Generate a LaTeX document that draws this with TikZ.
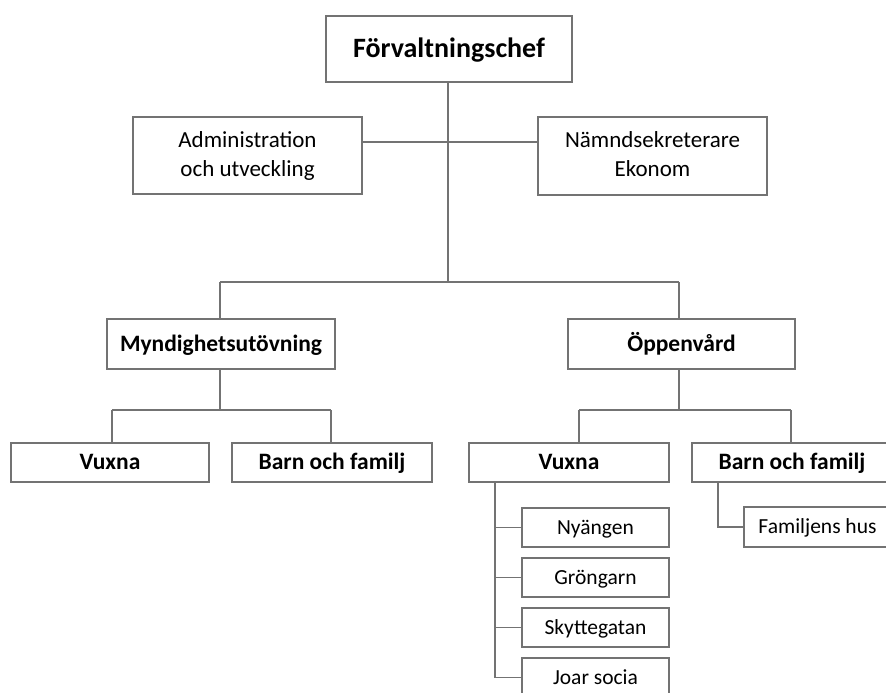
\documentclass[tikz,border=0pt]{standalone}
\usepackage{fontspec}
\setmainfont{Carlito}
\begin{document}
\begin{tikzpicture}[x=1pt,y=-1pt,
  box/.style={draw=black!55,line width=1.3pt,fill=white,inner sep=0pt,align=center},
  conn/.style={draw=black!55,line width=1.3pt},
  chefbox/.style={box,font=\fontsize{28}{32}\selectfont\bfseries,text height=23.2pt,text depth=5.6pt},
  staffbox/.style={box,font=\fontsize{23}{29}\selectfont},
  lvlbox/.style={box,font=\fontsize{23.5}{27}\selectfont\bfseries,text height=19.5pt,text depth=4.7pt},
  subbox/.style={box,font=\fontsize{21.5}{24}\selectfont,text height=17.8pt,text depth=4.3pt}]
\clip (0,0) rectangle (886,693);
\fill[white] (0,0) rectangle (886,693);
% top
\node[chefbox,minimum width=246pt,minimum height=66pt] (chef) at (449,49) {Förvaltningschef};
\node[staffbox,minimum width=229pt,minimum height=77pt] (admin) at (247.5,155.5) {Administration\\och utveckling};
\node[staffbox,minimum width=229pt,minimum height=78pt] (namnd) at (652.5,156) {Nämndsekreterare\\Ekonom\vphantom{g}};
% level 2
\node[lvlbox,minimum width=228pt,minimum height=50pt] (mynd) at (221,344) {Myndighetsutövning};
\node[lvlbox,minimum width=227pt,minimum height=50pt] (oppen) at (681.5,344) {Öppenvård};
% level 3
\node[lvlbox,minimum width=198pt,minimum height=39pt] (vuxL) at (110,462.5) {Vuxna};
\node[lvlbox,minimum width=200pt,minimum height=39pt] (barnL) at (332,462.5) {Barn och familj};
\node[lvlbox,minimum width=200pt,minimum height=39pt] (vuxR) at (569,462.5) {Vuxna};
\node[lvlbox,minimum width=200pt,minimum height=39pt] (barnR) at (792,462.5) {Barn och familj};
% level 4
\node[subbox,minimum width=147pt,minimum height=39pt] (nya) at (595.5,527.5) {Nyängen};
\node[subbox,minimum width=147pt,minimum height=39pt] (gro) at (595.5,577.5) {Gröngarn};
\node[subbox,minimum width=147pt,minimum height=39pt] (sky) at (595.5,627.5) {Skyttegatan};
\node[subbox,minimum width=147pt,minimum height=39pt] (joar) at (595.5,677.5) {Joar socia};
\node[subbox,minimum width=147pt,minimum height=40pt] (fam) at (817.5,527) {Familjens hus};
% coordinates
\coordinate (trunk) at (448,282);
\coordinate (staffL) at (362,142);
\coordinate (staffR) at (538,142);
\coordinate (hL) at (220,282);
\coordinate (hR) at (679,282);
\coordinate (myndBar) at (220,410);
\coordinate (myndBarL) at (112,410);
\coordinate (myndBarR) at (331,410);
\coordinate (oppBar) at (679,410);
\coordinate (oppBarL) at (579,410);
\coordinate (oppBarR) at (791,410);
\coordinate (vuxTrunk) at (495,482);
\coordinate (barnTrunk) at (718,482);
% connectors
\draw[conn] (chef.south -| trunk) -- (trunk);
\draw[conn] (staffL) -- (staffR);
\draw[conn] (hL) -- (hR);
\draw[conn] (hL) -- (hL |- mynd.north);
\draw[conn] (hR) -- (hR |- oppen.north);
\draw[conn] (mynd.south -| myndBar) -- (myndBar);
\draw[conn] (myndBarL) -- (myndBarR);
\draw[conn] (myndBarL) -- (myndBarL |- vuxL.north);
\draw[conn] (myndBarR) -- (myndBarR |- barnL.north);
\draw[conn] (oppen.south -| oppBar) -- (oppBar);
\draw[conn] (oppBarL) -- (oppBarR);
\draw[conn] (oppBarL) -- (oppBarL |- vuxR.north);
\draw[conn] (oppBarR) -- (oppBarR |- barnR.north);
\draw[conn] (vuxTrunk) |- (joar.west);
\draw[conn] (vuxTrunk |- nya.west) -- (nya.west);
\draw[conn] (vuxTrunk |- gro.west) -- (gro.west);
\draw[conn] (vuxTrunk |- sky.west) -- (sky.west);
\draw[conn] (barnTrunk) |- (fam.west);
\end{tikzpicture}
\end{document}
